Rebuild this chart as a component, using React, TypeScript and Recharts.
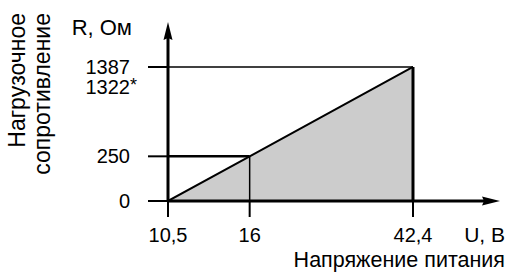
import React from 'react';
import { AreaChart, Area, XAxis, YAxis, ReferenceLine } from 'recharts';

// Supply voltage, V (break points of the limit line)
const voltage = [10.5, 16, 42.4];
// Load resistance, Ohm, at those break points
const resistance = [0, 250, 1387];
// second value printed under the top resistance tick
const resistanceAlt = '1322';
// the drawing is not to scale: every break point has its own slot on the axis
const slots = [0, 1, 3];

const X_MAX = 3.845;
const Y_MAX = 3.604;

const FONT = '"Liberation Sans", Arial, sans-serif';
const fmt = (v: number) => String(v).replace('.', ',');

const data = voltage.map((u, i) => ({ x: slots[i], y: slots[i], u, r: resistance[i] }));

const XTick = ({ x, y, payload }: any) => {
  const i = slots.indexOf(payload.value);
  return (
    <text x={x} y={y} dy="0.71em" textAnchor="middle" fontSize={20} fill="#000" fontFamily={FONT}>
      {fmt(voltage[i])}
    </text>
  );
};

const YTick = ({ x, y, payload }: any) => {
  const i = slots.indexOf(payload.value);
  return (
    <g>
      <text x={x} y={y} dy="0.355em" textAnchor="end" fontSize={20} fill="#000" fontFamily={FONT}>
        {resistance[i]}
      </text>
      {i === slots.length - 1 && (
        <>
          <text x={x} y={y + 20} dy="0.355em" textAnchor="end" fontSize={20} fill="#000" fontFamily={FONT}>
            {resistanceAlt}
          </text>
          <text x={x} y={y + 20} dy="0.25em" textAnchor="start" fontSize={18} fill="#000" fontFamily={FONT}>
            *
          </text>
        </>
      )}
    </g>
  );
};

// axis segment with an arrow head at its far end
const ArrowHead = (props: any) => {
  const { x1, y1, x2, y2 } = props;
  const a = Math.atan2(y2 - y1, x2 - x1);
  const L = 18;
  const W = 4.5;
  const cos = Math.cos(a);
  const sin = Math.sin(a);
  const tip = [x2 + L * cos, y2 + L * sin];
  const p1 = [x2 - W * sin, y2 + W * cos];
  const p2 = [x2 + W * sin, y2 - W * cos];
  const notch = [x2 + 2 * cos, y2 + 2 * sin];
  return (
    <g>
      <line x1={x1} y1={y1} x2={x2 + 3 * cos} y2={y2 + 3 * sin} stroke="#000" strokeWidth={3} />
      <path
        d={`M${p1[0]},${p1[1]} L${tip[0]},${tip[1]} L${p2[0]},${p2[1]} L${notch[0]},${notch[1]} Z`}
        fill="#000"
      />
    </g>
  );
};

export default function App() {
  const top = slots[slots.length - 1];
  return (
    <div style={{ position: 'absolute', left: 0, top: 0, background: '#fff' }}>
      <AreaChart width={510} height={275} data={data} margin={{ top: 40, right: 28, bottom: 0, left: 0 }}>
        <XAxis
          dataKey="x"
          type="number"
          domain={[0, X_MAX]}
          allowDataOverflow
          ticks={slots}
          height={74}
          tickSize={16}
          tickMargin={11}
          tick={<XTick />}
          axisLine={false}
          tickLine={{ stroke: '#000', strokeWidth: 2 }}
        />
        <YAxis
          dataKey="y"
          type="number"
          domain={[0, Y_MAX]}
          allowDataOverflow
          ticks={slots}
          width={168}
          tickSize={20}
          tickMargin={18}
          tick={<YTick />}
          axisLine={false}
          tickLine={{ stroke: '#000', strokeWidth: 2 }}
        />
        <Area
          type="linear"
          dataKey="y"
          stroke="#000"
          strokeWidth={2}
          fill="#cccccc"
          fillOpacity={1}
          isAnimationActive={false}
        />
        <ReferenceLine segment={[{ x: 0, y: top }, { x: top, y: top }]} stroke="#000" strokeWidth={1.5} />
        <ReferenceLine segment={[{ x: 0, y: slots[1] }, { x: slots[1], y: slots[1] }]} stroke="#000" strokeWidth={2.5} />
        <ReferenceLine segment={[{ x: slots[1], y: 0 }, { x: slots[1], y: slots[1] }]} stroke="#000" strokeWidth={1.5} />
        <ReferenceLine segment={[{ x: top, y: 0 }, { x: top, y: top }]} stroke="#000" strokeWidth={3} />
        <ReferenceLine segment={[{ x: 0, y: 0 }, { x: X_MAX, y: 0 }]} shape={<ArrowHead />} />
        <ReferenceLine segment={[{ x: 0, y: 0 }, { x: 0, y: Y_MAX }]} shape={<ArrowHead />} />
        <text x={132} y={35} textAnchor="end" fontSize={22} fill="#000" fontFamily={FONT}>R, Ом</text>
        <text x={505} y={242} textAnchor="end" fontSize={21} fill="#000" fontFamily={FONT}>U, В</text>
        <text x={505} y={267} textAnchor="end" fontSize={21.5} fill="#000" fontFamily={FONT}>Напряжение питания</text>
        <text x={25} y={13} textAnchor="end" transform="rotate(-90 25 13)" fontSize={23} fill="#000" fontFamily={FONT}>
          Нагрузочное
        </text>
        <text x={50} y={13} textAnchor="end" transform="rotate(-90 50 13)" fontSize={23} fill="#000" fontFamily={FONT}>
          сопротивление
        </text>
      </AreaChart>
    </div>
  );
}
